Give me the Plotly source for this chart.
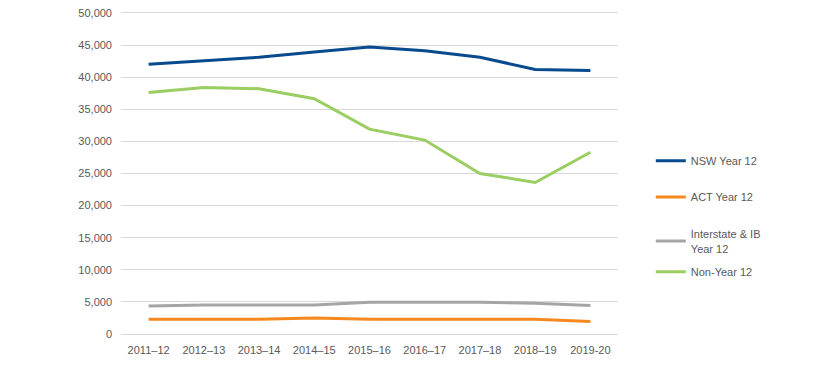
import plotly.graph_objects as go

categories = ["2011–12", "2012–13", "2013–14", "2014–15", "2015–16", "2016–17", "2017–18", "2018–19", "2019-20"]
nsw_y12 = [42000, 42600, 43100, 43900, 44700, 44100, 43100, 41200, 41050]
act_y12 = [2300, 2300, 2300, 2500, 2300, 2300, 2300, 2300, 1950]
interstate_y12 = [4350, 4500, 4500, 4500, 4950, 4950, 4950, 4800, 4450]
non_y12 = [37600, 38400, 38200, 36650, 31900, 30200, 25000, 23600, 28300]

series = [
    ("NSW Year 12", nsw_y12, "#074a8e", "legend", 0.536),
    ("ACT Year 12", act_y12, "#f5891f", "legend2", 0.424),
    ("Interstate & IB<br>Year 12", interstate_y12, "#a5a5a5", "legend3", 0.287),
    ("Non-Year 12", non_y12, "#9acd62", "legend4", 0.193),
]

fig = go.Figure()
legend_layouts = {}
for name, vals, color, leg, ly in series:
    fig.add_trace(go.Scatter(
        x=categories, y=vals, name=name, mode="lines",
        line=dict(color=color, width=3),
        legend=leg, hoverinfo="skip",
    ))
    legend_layouts[leg] = dict(
        x=1.066, y=ly, xanchor="left", yanchor="middle",
        xref="paper", yref="paper",
        font=dict(family="Liberation Sans, Arial, sans-serif", size=11, color="#595959"),
        itemwidth=30, bgcolor="rgba(0,0,0,0)",
    )

fig.update_layout(
    width=838, height=388,
    margin=dict(l=121, r=220, t=11, b=54, autoexpand=False),
    paper_bgcolor="white", plot_bgcolor="white",
    font=dict(family="Liberation Sans, Arial, sans-serif", size=11, color="#595959"),
    showlegend=True,
    xaxis=dict(
        type="category", range=[-0.5, 8.5], automargin=False,
        showgrid=False, showline=False, zeroline=False,
        ticks="", ticklabelstandoff=8,
        tickfont=dict(size=11, color="#595959"),
    ),
    yaxis=dict(
        range=[0, 50300], tickvals=list(range(0, 50001, 5000)),
        tickformat=",d", automargin=False,
        showgrid=True, gridcolor="#d9d9d9", gridwidth=1,
        zeroline=True, zerolinecolor="#d9d9d9", zerolinewidth=1,
        showline=False, ticks="",
        ticklabelstandoff=8,
        tickfont=dict(size=11, color="#595959"),
    ),
    **legend_layouts,
)

fig.write_html("out.html", config={"displayModeBar": False},
               post_script="document.body.style.margin='0';")
